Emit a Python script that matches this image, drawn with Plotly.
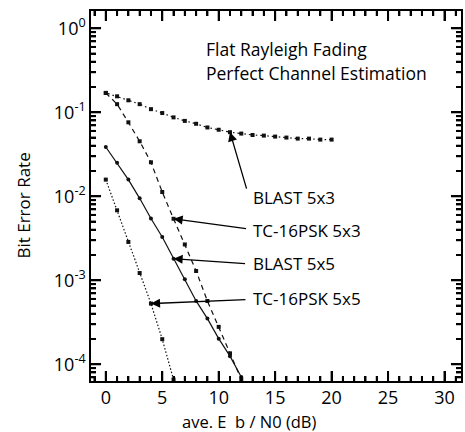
import math
import plotly.graph_objects as go

# ---- data ----
ebno_blast53 = list(range(0, 21))
ber_blast53 = [0.170, 0.155, 0.139, 0.125, 0.109, 0.098, 0.087, 0.079, 0.073, 0.066,
               0.062, 0.058, 0.0558, 0.0537, 0.0528, 0.0514, 0.050, 0.0486, 0.0486,
               0.0473, 0.0473]

ebno_tc53 = list(range(0, 13))
ber_tc53 = [0.170, 0.125, 0.076, 0.0452, 0.0254, 0.01125, 0.0054, 0.00267, 0.00129,
            0.000567, 0.000279, 0.000135, 0.000066]

ebno_blast55 = list(range(0, 13))
ber_blast55 = [0.0386, 0.0251, 0.0158, 0.00946, 0.00543, 0.00328, 0.00181, 0.00103,
               0.000568, 0.000350, 0.000202, 0.000125, 0.0000706]

ebno_tc55 = list(range(0, 7))
ber_tc55 = [0.0158, 0.00681, 0.00286, 0.00122, 0.000528, 0.000199, 0.0000658]

y_tickvals = [1, 0.1, 0.01, 0.001, 0.0001]
y_ticktext = ["10<sup>0</sup>", "10<sup>-1</sup>", "10<sup>-2</sup>",
              "10<sup>-3</sup>", "10<sup>-4</sup>"]
x_tickvals = [0, 5, 10, 15, 20, 25, 30]
x_ticktext = ["0", "5", "10", "15", "20", "25", "30"]

series_labels = ["BLAST 5x3", "TC-16PSK 5x3", "BLAST 5x5", "TC-16PSK 5x5"]
chart_title_lines = ["Flat Rayleigh Fading", "Perfect Channel Estimation"]
x_title = "ave. E\u00a0\u00a0b / N0 (dB)"
y_title = "Bit Error Rate"

X_RANGE = [-1.31, 31.46]
Y_RANGE = [-4.199, 0.206]

# minor tick positions (axis decoration only)
x_minor = [v for v in range(-1, 32) if v % 5 != 0 and X_RANGE[0] <= v <= X_RANGE[1]]
y_minor = [m * 10.0 ** e for e in range(-5, 1) for m in range(2, 10)
           if Y_RANGE[0] <= math.log10(m * 10.0 ** e) <= Y_RANGE[1]]

FONT = "Open Sans"
INK = "#111111"
W, H = 465, 432
M = dict(l=91, r=4, t=11, b=51)
PW = W - M["l"] - M["r"]
PH = H - M["t"] - M["b"]

fig = go.Figure()

def add(x, y, dash, symbol, name):
    fig.add_trace(go.Scatter(
        x=x, y=y, mode="lines+markers", name=name,
        line=dict(color=INK, width=1.2, dash=dash),
        marker=dict(symbol=symbol, size=4, color=INK),
        showlegend=False))

add(ebno_blast53, ber_blast53, "4px,3px,1.5px,3px", "square", series_labels[0])
add(ebno_tc53, ber_tc53, "5px,4px", "square", series_labels[1])
add(ebno_blast55, ber_blast55, "solid", "circle", series_labels[2])
add(ebno_tc55, ber_tc55, "1.5px,2px", "square", series_labels[3])

common = dict(showline=True, linecolor="black", linewidth=1.5, mirror="ticks",
              showgrid=False, zeroline=False, ticks="inside", ticklen=10,
              tickwidth=2, tickcolor="black")

fig.update_layout(
    template="none",
    xaxis=dict(range=X_RANGE, tickmode="array", tickvals=x_tickvals, ticktext=x_ticktext,
               minor=dict(tickmode="array", tickvals=x_minor, ticks="inside",
                          ticklen=5, tickwidth=2, tickcolor="black", showgrid=False),
               tickfont=dict(family=FONT, size=18, color="black"), **common),
    yaxis=dict(type="log", range=Y_RANGE, tickmode="array",
               tickvals=y_tickvals, ticktext=y_ticktext,
               minor=dict(tickmode="array", tickvals=y_minor, ticks="inside",
                          ticklen=5, tickwidth=2, tickcolor="black", showgrid=False),
               tickfont=dict(family=FONT, size=18, color="black"), **common),
)

# inward tick marks on all four sides (backup drawing, same positions as axis ticks)
def xfrac(v):
    return (v - X_RANGE[0]) / (X_RANGE[1] - X_RANGE[0])

def yfrac(v):
    return (math.log10(v) - Y_RANGE[0]) / (Y_RANGE[1] - Y_RANGE[0])

shapes = []
tick_line = dict(color="black", width=2)
for vals, ln in ((x_tickvals, 10), (x_minor, 5)):
    for v in vals:
        f = xfrac(v)
        shapes.append(dict(type="line", xref="paper", yref="paper", x0=f, x1=f,
                           y0=0, y1=ln / PH, line=tick_line))
        shapes.append(dict(type="line", xref="paper", yref="paper", x0=f, x1=f,
                           y0=1, y1=1 - ln / PH, line=tick_line))
for vals, ln in ((y_tickvals, 10), (y_minor, 5)):
    for v in vals:
        f = yfrac(v)
        shapes.append(dict(type="line", xref="paper", yref="paper", y0=f, y1=f,
                           x0=0, x1=ln / PW, line=tick_line))
        shapes.append(dict(type="line", xref="paper", yref="paper", y0=f, y1=f,
                           x0=1, x1=1 - ln / PW, line=tick_line))

ann = []
for txt, yp in zip(chart_title_lines, [0.8965, 0.8335]):
    ann.append(dict(text=txt, xref="paper", yref="paper", x=0.306, y=yp,
                    xanchor="left", yanchor="middle", showarrow=False,
                    font=dict(family=FONT, size=17.5, color="black")))

label_pos = [0.4965, 0.407, 0.318, 0.2235]
tips = [(ebno_blast53, ber_blast53, 11, 17, 58),
        (ebno_tc53, ber_tc53, 6, 74, 10),
        (ebno_blast55, ber_blast55, 6, 73, 5),
        (ebno_tc55, ber_tc55, 4, 96, -4)]
for lbl, yp, (xs, ys, i, ax, ay) in zip(series_labels, label_pos, tips):
    ann.append(dict(text=lbl, xref="paper", yref="paper", x=0.433, y=yp,
                    xanchor="left", yanchor="middle", showarrow=False,
                    font=dict(family=FONT, size=17, color="black")))
    ann.append(dict(text="", x=xs[i], y=math.log10(ys[i]), xref="x", yref="y",
                    showarrow=True, ax=ax, ay=ay, arrowhead=2, arrowsize=1.4,
                    arrowwidth=1.3, arrowcolor="black"))

ann.append(dict(text=x_title, xref="paper", yref="paper", x=0.4275, y=-0.109,
                xanchor="center", yanchor="middle", showarrow=False,
                font=dict(family=FONT, size=16.5, color="black")))
ann.append(dict(text=y_title, xref="paper", yref="paper", x=-0.183, y=0.475,
                xanchor="center", yanchor="middle", showarrow=False, textangle=-90,
                font=dict(family=FONT, size=17, color="black")))

fig.update_layout(
    width=W, height=H,
    margin=M,
    paper_bgcolor="white", plot_bgcolor="white",
    shapes=shapes,
    annotations=ann)

fig.write_html("out.html", config={"displayModeBar": False},
               post_script="document.body.style.margin='0';")
